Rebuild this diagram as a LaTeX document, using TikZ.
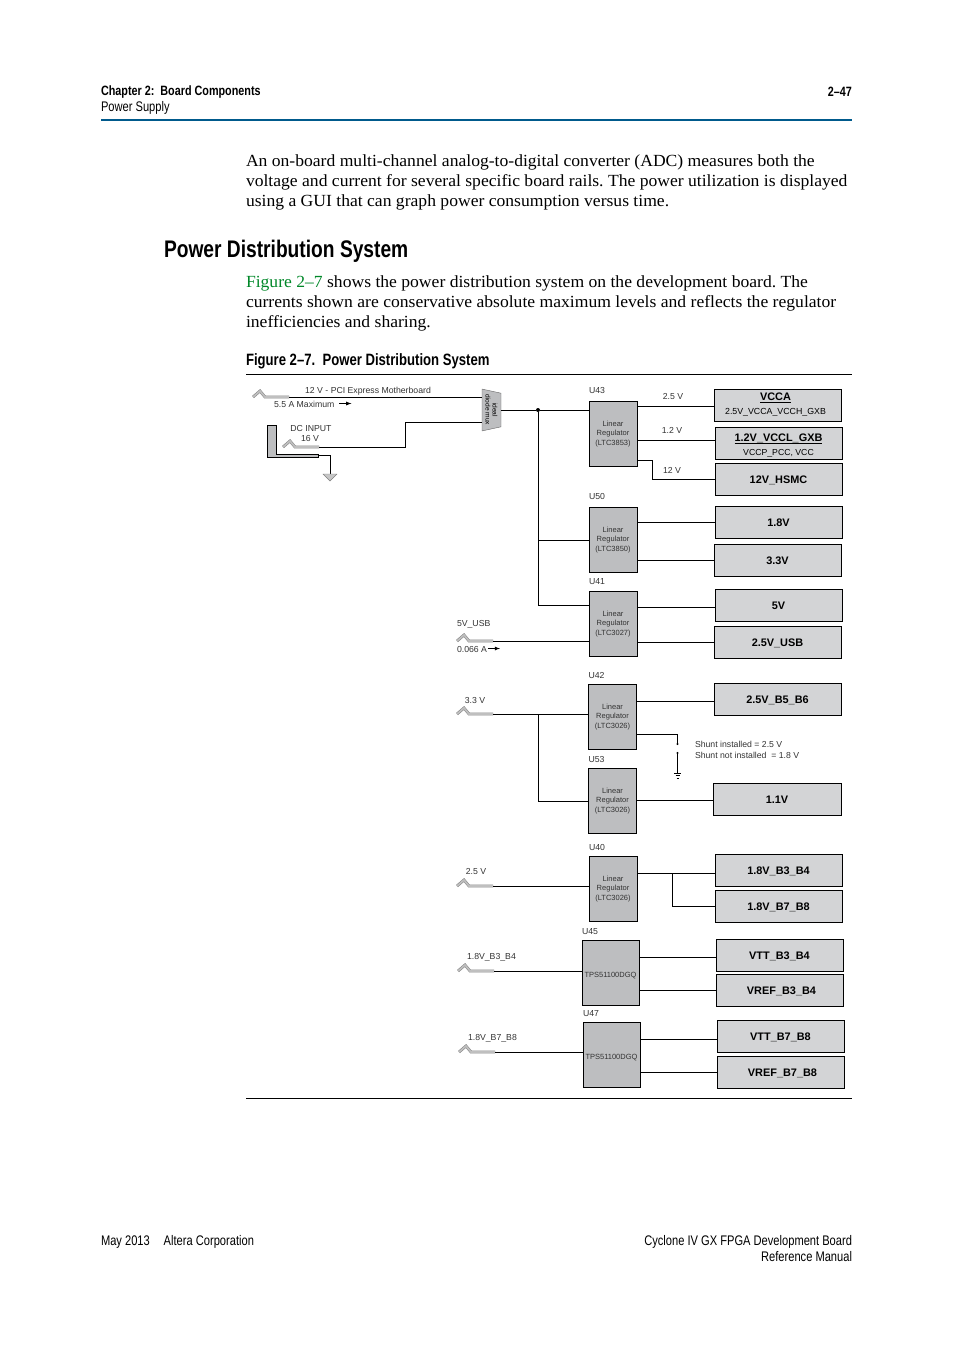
\documentclass[tikz,border=0pt]{standalone}
\usepackage{fontspec}
\setmainfont{Liberation Serif}
\setsansfont{Liberation Sans}
\newfontfamily\bodyfont[FakeStretch=1.035]{Liberation Serif}
\newfontfamily\headfont[FakeStretch=0.8]{Liberation Sans}
\usepackage{tikz}
\usetikzlibrary{shapes.geometric,arrows,positioning,calc}
\definecolor{railgray}{RGB}{211,212,214}
\definecolor{reggray}{RGB}{189,190,192}
\definecolor{rulerblue}{RGB}{0,90,140}
\definecolor{linkgreen}{RGB}{0,135,40}
\newcommand{\railhead}[1]{\mbox{\setbox0\hbox{#1}\rlap{\rule[-2.2pt]{\wd0}{1.2pt}}\box0}}
\tikzset{
  jackplug/.pic={
    \draw[draw=black!50, line width=.5pt, double=gray!50, double distance=1.8pt] (0,0) -- (7,-6) -- (12,0) -- (36,0);
    \coordinate (-end) at (36,0);
  }
}

\begin{document}
\begin{tikzpicture}[
    x=1pt, y=-1pt,
    font=\sffamily\fontsize{8.7}{10.5}\selectfont,
    regbox/.style={draw, line width=.8pt, fill=reggray, align=center, inner sep=0pt, outer sep=0pt, minimum width=48pt, minimum height=65pt, text=black!80, font=\sffamily\fontsize{7.5}{9.5}\selectfont},
    tpsbox/.style={regbox, minimum width=57pt, text height=8.6pt, text depth=0pt},
    railbox/.style={draw, line width=.8pt, fill=railgray, align=center, inner sep=0pt, outer sep=0pt, minimum width=127pt, minimum height=32pt, font=\sffamily\bfseries\fontsize{10.9}{13}\selectfont},
    railtxt/.style={railbox, text height=8.8pt, text depth=0pt},
    note/.style={inner sep=0pt, outer sep=0pt, text=black!80, align=left},
    pagetext/.style={inner sep=0pt, outer sep=0pt, align=left, anchor=west},
    head/.style={pagetext, font=\headfont\fontsize{13.9}{16}\selectfont},
    bodypara/.style={pagetext, font=\bodyfont\fontsize{17}{20}\selectfont\frenchspacing},
    wire/.style={line width=.8pt},
    flow/.style={->, >=latex, line width=.8pt},
    dot/.style={circle, fill, inner sep=0pt, minimum size=4pt},
    tinydot/.style={circle, fill, inner sep=0pt, minimum size=2.4pt},
  ]
    \useasboundingbox (0,0) rectangle (954,1350);

    \node[head, font=\headfont\bfseries\fontsize{13.5}{16}\selectfont] (chap) at (101,92) {Chapter 2:\ \ Board Components};
    \node[head] (supply) at (101,108) {Power Supply};
    \node[head, anchor=east, font=\headfont\bfseries\fontsize{13.5}{16}\selectfont] (pageno) at (852,92) {2–47};
    \coordinate (toprule) at (101,120);
    \draw[rulerblue, line width=1.5pt] (toprule) -- ++(751,0);

    \node[bodypara] (intro) at (246,182) {An on-board multi-channel analog-to-digital converter (ADC) measures both the\\voltage and current for several specific board rails. The power utilization is displayed\\using a GUI that can graph power consumption versus time.};
    \node[pagetext, font=\headfont\bfseries\fontsize{24}{28}\selectfont] (title) at (164,251) {Power Distribution System};
    \node[bodypara] (para) at (246,303) {\textcolor{linkgreen}{Figure 2–7} shows the power distribution system on the development board. The\\currents shown are conservative absolute maximum levels and reflects the regulator\\inefficiencies and sharing.};
    \node[head, font=\headfont\bfseries\fontsize{16.4}{18}\selectfont] (caption) at (246,361) {Figure 2–7.\ \ Power Distribution System};
    \coordinate (capa) at (246,374.5);
    \coordinate (capb) at (246,1098.5);
    \draw[line width=.6pt] (capa) -- ++(606,0);
    \draw[line width=.6pt] (capb) -- ++(606,0);
    \node[head] (date) at (101,1242) {May 2013\quad Altera Corporation};
    \node[head, anchor=east, align=right] (manual) at (852,1249) {Cyclone IV GX FPGA Development Board\\Reference Manual};

    \node[regbox] (u43) at (613,434) {Linear\\Regulator\\(LTC3853)};
    \node[regbox, below=41pt of u43] (u50) {Linear\\Regulator\\(LTC3850)};
    \node[regbox, below=19pt of u50] (u41) {Linear\\Regulator\\(LTC3027)};
    \node[regbox, below=28pt of u41, xshift=-.5pt] (u42) {Linear\\Regulator\\(LTC3026)};
    \node[regbox, below=19pt of u42] (u53) {Linear\\Regulator\\(LTC3026)};
    \node[regbox, below=23pt of u53, xshift=.5pt] (u40) {Linear\\Regulator\\(LTC3026)};
    \node[tpsbox, below=19pt of u40, xshift=-2.5pt] (u45) {TPS51100DGQ};
    \node[tpsbox, below=17pt of u45, xshift=1pt] (u47) {TPS51100DGQ};

    \node[note, above right=8pt and 0pt of u43.north west] (u43tag) {U43};
    \node[note, above right=8pt and 0pt of u50.north west] (u50tag) {U50};
    \node[note, above right=7pt and 0pt of u41.north west] (u41tag) {U41};
    \node[note, above right=6pt and 0pt of u42.north west] (u42tag) {U42};
    \node[note, above right=6pt and 0pt of u53.north west] (u53tag) {U53};
    \node[note, above right=6pt and 0pt of u40.north west] (u40tag) {U40};
    \node[note, above right=6pt and 0pt of u45.north west] (u45tag) {U45};
    \node[note, above right=6pt and 0pt of u47.north west] (u47tag) {U47};

    \node[railbox] (vcca) at (777.5,405) {\hspace*{-4pt}\railhead{VCCA}\\[1pt]\hspace*{-4pt}{\mdseries\fontsize{8.8}{10}\selectfont 2.5V\_VCCA\_VCCH\_GXB}};
    \node[railbox, below=6pt of vcca, xshift=1pt] (vccl) {\rule{0pt}{13pt}\railhead{1.2V\_VCCL\_GXB}\\[1pt]{\mdseries\fontsize{8.7}{10}\selectfont VCCP\_PCC, VCC}};
    \node[railtxt, below=4pt of vccl] (hsmc) {12V\_HSMC};
    \node[railtxt, below=11pt of hsmc] (r18) {1.8V};
    \node[railtxt, below=6pt of r18, xshift=-1pt] (r33) {3.3V};
    \node[railtxt, below=13pt of r33, xshift=1pt] (r5) {5V};
    \node[railtxt, below=5pt of r5, xshift=-1pt] (rusb) {2.5V\_USB};
    \node[railtxt, below=25pt of rusb] (b5b6) {2.5V\_B5\_B6};
    \node[railtxt, below=68pt of b5b6, xshift=-.5pt, minimum width=128pt] (r11) {1.1V};
    \node[railtxt, below=39pt of r11, xshift=1.5pt] (b3b4) {1.8V\_B3\_B4};
    \node[railtxt, below=4pt of b3b4] (b7b8) {1.8V\_B7\_B8};
    \node[railtxt, below=17pt of b7b8, xshift=1pt] (vttb3) {VTT\_B3\_B4};
    \node[railtxt, below=3pt of vttb3] (vrefb3) {\hspace*{4pt}VREF\_B3\_B4};
    \node[railtxt, below=14pt of vrefb3, xshift=1pt] (vttb7) {VTT\_B7\_B8};
    \node[railtxt, below=4pt of vttb7] (vrefb7) {\hspace*{4pt}VREF\_B7\_B8};

    \node[draw=black!60, fill=reggray, trapezium, rotate=-90, trapezium stretches=true, trapezium angle=72.5, minimum width=42pt, minimum height=19pt, inner sep=0pt, outer sep=0pt, align=center, font=\sffamily\fontsize{6.6}{7}\selectfont] (mux) at (491.5,410) {ideal\\diode mux};
    \pic (pcie) at (253,397) {jackplug};
    \pic (dcin) at (283,447) {jackplug};
    \pic (usb) at (457,641) {jackplug};
    \pic (in33) at (457,714) {jackplug};
    \pic (in25) at (457,886) {jackplug};
    \pic (inb3) at (458,971) {jackplug};
    \pic (inb7) at (459,1052) {jackplug};

    \node[note, anchor=center] (pcietxt) at (368,391) {12 V - PCI Express Motherboard};
    \node[note, anchor=west] (amax) at (274,404) {5.5 A Maximum};
    \node[note, anchor=center] (dctxt) at (311,428) {DC INPUT};
    \node[note, anchor=center] (dcv) at (310,438.5) {16 V};
    \node[note, anchor=center] (v25a) at (673,396) {2.5 V};
    \node[note, anchor=center] (v12) at (672,430) {1.2 V};
    \node[note, anchor=center] (v12b) at (672,470) {12 V};
    \node[note, anchor=west] (usbtxt) at (457,624) {5V\_USB};
    \node[note, anchor=west] (usba) at (457,649) {0.066 A};
    \node[note, anchor=center] (v33) at (475,700) {3.3 V};
    \node[note, anchor=west, font=\sffamily\fontsize{8.7}{11}\selectfont] (shunt) at (695,749.5) {Shunt installed = 2.5 V\\Shunt not installed\ \ = 1.8 V};
    \node[note, anchor=center] (v25b) at (476,871) {2.5 V};
    \node[note, anchor=west] (b3txt) at (467,957) {1.8V\_B3\_B4};
    \node[note, anchor=west] (b7txt) at (468,1038) {1.8V\_B7\_B8};

    \draw[flow] ([xshift=5pt, yshift=.5pt]amax.east) -- ++(12,0);
    \draw[flow] ([xshift=1pt, yshift=.5pt]usba.east) -- ++(12,0);

    \coordinate (sleeve) at (267,425);
    \draw[fill=reggray, wire] (sleeve) -- ++(9,0) -- ++(0,29) -- ++(42,0) -- ++(0,3) -- ++(-51,0) -- cycle;
    \coordinate (gnda) at (318,455);
    \coordinate (gndb) at (330,474);
    \draw[wire] (gnda) -| (gndb);
    \draw[draw=black!50, fill=gray!45] (gndb) ++(-7,0) -- ++(14,0) -- ++(-7,7) -- cycle;

    \node[dot] (busa) at (538,410) {};
    \coordinate (busb) at (538,540);
    \coordinate (busc) at (538,605);
    \coordinate (busd) at (538,714);
    \coordinate (buse) at (538,801);
    \draw[wire] (pcie-end) -- (pcie-end -| mux.bottom side);
    \draw[wire] (dcin-end) -- (405,447) |- (mux.bottom side |- 0,422);
    \draw[wire] (mux.top side) -- (busa) -- (busa -| u43.west);
    \draw[wire] (busa) -- (busc) -- (busc -| u41.west);
    \draw[wire] (busb) -- (busb -| u50.west);
    \draw[wire] (usb-end) -- (usb-end -| u41.west);
    \draw[wire] (in33-end) -- (in33-end -| u42.west);
    \draw[wire] (busd) -- (buse) -- (buse -| u53.west);
    \draw[wire] (in25-end) -- (in25-end -| u40.west);
    \draw[wire] (inb3-end) -- (inb3-end -| u45.west);
    \draw[wire] (inb7-end) -- (inb7-end -| u47.west);

    \draw[wire] (u43.east |- 0,406) -- (vcca.west |- 0,406);
    \draw[wire] (u43.east |- 0,440) -- (vccl.west |- 0,440);
    \draw[wire] (u43.east |- 0,460) -- (652,460) |- (hsmc.west);
    \draw[wire] (u50.east |- r18.west) -- (r18.west);
    \draw[wire] (u50.east |- r33.west) -- (r33.west);
    \draw[wire] (u41.east |- 0,607) -- (r5.west |- 0,607);
    \draw[wire] (u41.east |- rusb.west) -- (rusb.west);
    \draw[wire] (u42.east |- 0,701) -- (b5b6.west |- 0,701);
    \draw[wire] (u53.east |- 0,800) -- (r11.west |- 0,800);
    \draw[wire] (u40.east |- 0,873) -- (b3b4.west |- 0,873);
    \draw[wire] (672,873) |- (b7b8.west);
    \draw[wire] (u45.east |- 0,957) -- (vttb3.west |- 0,957);
    \draw[wire] (u45.east |- 0,990) -- (vrefb3.west |- 0,990);
    \draw[wire] (u47.east |- 0,1039) -- (vttb7.west |- 0,1039);
    \draw[wire] (u47.east |- 0,1072) -- (vrefb7.west |- 0,1072);

    \node[tinydot] (shunta) at (677.5,744) {};
    \node[tinydot] (shuntb) at (677.5,753) {};
    \coordinate (earth) at (677.5,773);
    \draw[wire] (u42.east |- 0,734) -| (shunta);
    \draw[wire] (shuntb) -- (earth);
    \draw[line width=.5pt] (earth) ++(-3.5,0) -- ++(7,0) ++(-5.5,2.5) -- ++(4,0) ++(-3,2.5) -- ++(2,0);
  \end{tikzpicture}
\end{document}
